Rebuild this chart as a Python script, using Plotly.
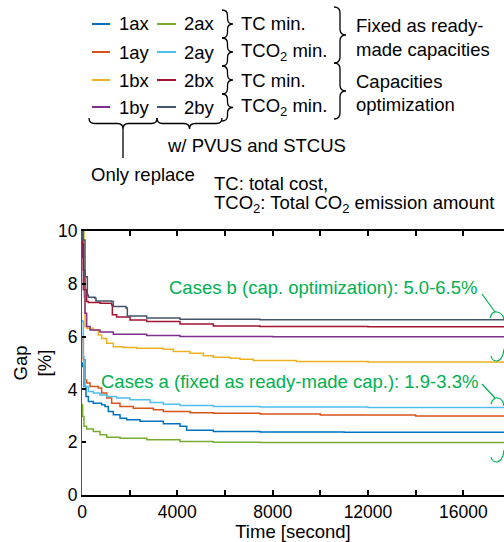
import plotly.graph_objects as go

# ---------------- data ----------------
series_names = ["1ax", "1ay", "1bx", "1by", "2ax", "2ay", "2bx", "2by"]
series_colors = ["#0072BD", "#D95319", "#EDB120", "#7E2F8E",
                 "#77AC30", "#4DBEEE", "#A2142F", "#44546A"]

t_1ax = [0, 28, 84, 168, 266, 476, 825, 965, 1105, 1315, 1595, 1874, 2434, 3413, 4112, 4392, 5511, 7469, 11000, 17708]
v_1ax = [5.0, 4.87, 4.11, 3.73, 3.54, 3.48, 3.42, 3.35, 3.16, 3.04, 2.91, 2.85, 2.79, 2.70, 2.60, 2.45, 2.41, 2.39, 2.38, 2.38]

t_1ay = [0, 28, 56, 126, 196, 336, 685, 825, 1035, 1245, 1595, 2154, 2993, 3413, 4532, 5511, 7469, 10000, 14000, 17708]
v_1ay = [5.9, 5.88, 5.12, 4.36, 4.24, 4.11, 4.05, 3.86, 3.67, 3.48, 3.35, 3.29, 3.23, 3.16, 3.12, 3.10, 3.07, 3.03, 2.99, 2.97]

t_1bx = [0, 84, 126, 196, 476, 685, 825, 1035, 1315, 1734, 2294, 3413, 3833, 4532, 5091, 5511, 6210, 6630, 7190, 9000, 12000, 17708]
v_1bx = [10.0, 7.5, 6.38, 6.32, 6.25, 6.06, 5.93, 5.75, 5.62, 5.59, 5.56, 5.52, 5.44, 5.37, 5.27, 5.22, 5.18, 5.14, 5.09, 5.06, 5.04, 5.02]

t_1by = [0, 28, 56, 126, 196, 336, 755, 1315, 2714, 4112, 8000, 17708]
v_1by = [10.0, 9.0, 7.77, 6.88, 6.38, 6.25, 6.17, 6.09, 6.04, 6.00, 5.99, 5.98]

t_2ax = [0, 28, 84, 196, 476, 755, 1035, 1595, 2714, 4112, 5511, 7469, 17708]
v_2ax = [3.42, 2.97, 2.60, 2.50, 2.41, 2.28, 2.19, 2.15, 2.09, 2.03, 2.00, 1.99, 1.97]

t_2ay = [0, 28, 56, 84, 126, 266, 476, 755, 1035, 1455, 2014, 2853, 3413, 4112, 5511, 7469, 12000, 17708]
v_2ay = [6.6, 6.57, 5.24, 4.36, 4.11, 3.92, 3.86, 3.79, 3.73, 3.67, 3.61, 3.50, 3.44, 3.39, 3.35, 3.33, 3.31, 3.29]

t_2bx = [0, 28, 56, 126, 196, 266, 755, 1245, 1273, 1455, 2014, 2714, 4112, 5511, 7469, 12000, 17708]
v_2bx = [10.0, 9.5, 8.52, 7.77, 7.33, 7.29, 7.26, 7.20, 6.83, 6.74, 6.63, 6.57, 6.48, 6.40, 6.38, 6.37, 6.36]

t_2by = [0, 28, 126, 224, 266, 545, 587, 1245, 1315, 1846, 1902, 2714, 4112, 7469, 17708]
v_2by = [10.0, 9.66, 8.27, 7.58, 7.49, 7.45, 7.35, 7.33, 7.14, 7.08, 6.78, 6.70, 6.66, 6.64, 6.63]

times = [t_1ax, t_1ay, t_1bx, t_1by, t_2ax, t_2ay, t_2bx, t_2by]
values = [v_1ax, v_1ay, v_1bx, v_1by, v_2ax, v_2ay, v_2bx, v_2by]

x_tickvals = [0, 4000, 8000, 12000, 16000]
x_ticktext = ["0", "4000", "8000", "12000", "16000"]
x_minor_step = 2000
y_tickvals = [0, 2, 4, 6, 8, 10]

row_labels = ["TC min.", "TCO<sub>2</sub> min.", "TC min.", "TCO<sub>2</sub> min."]
note_b = "Cases b (cap. optimization): 5.0-6.5%"
note_a = "Cases a (fixed as ready-made cap.): 1.9-3.3%"

# ---------------- layout helpers ----------------
W, H = 504, 542
L, T, PW, PH = 82, 231, 422, 264   # plot area in pixels
FONT = "Liberation Sans, Arial, sans-serif"
GREEN = "#00B050"
FS = 18.5
TFS = 17.5


def px(x):
    return (x - L) / PW


def py(y):
    return (T + PH - y) / PH


def path(cmds):
    out = []
    for c in cmds:
        if isinstance(c, str):
            out.append(c)
        else:
            out.append(f"{px(c[0]):.5f},{py(c[1]):.5f}")
    return " ".join(out)


def vbrace(x, y0, y1, w):
    xm = x + w / 2
    ym = (y0 + y1) / 2
    r = min(w / 2, (y1 - y0) / 4)
    return path(["M", (x, y0), "Q", (xm, y0), (xm, y0 + r), "L", (xm, ym - r),
                 "Q", (xm, ym), (x + w, ym), "Q", (xm, ym), (xm, ym + r),
                 "L", (xm, y1 - r), "Q", (xm, y1), (x, y1)])


def hbrace(x0, x1, y, d):
    ym = y + d / 2
    xm = (x0 + x1) / 2
    r = min(d / 2, (x1 - x0) / 4)
    return path(["M", (x0, y), "Q", (x0, ym), (x0 + r, ym), "L", (xm - r, ym),
                 "Q", (xm, ym), (xm, y + d), "Q", (xm, ym), (xm + r, ym),
                 "L", (x1 - r, ym), "Q", (x1, ym), (x1, y)])


fig = go.Figure()
for name, col, tt, vv in zip(series_names, series_colors, times, values):
    fig.add_trace(go.Scatter(x=tt, y=vv, mode="lines", name=name,
                             line=dict(color=col, width=1.5, shape="hv"),
                             showlegend=False))

shapes = []
annotations = []


def text(x, y, s, anchor="left", color="black", size=FS):
    annotations.append(dict(x=px(x), y=py(y), xref="paper", yref="paper", text=s,
                            showarrow=False, xanchor=anchor, yanchor="middle",
                            font=dict(family=FONT, size=size, color=color)))


def line_px(x0, y0, x1, y1, color="black", width=1.3):
    shapes.append(dict(type="line", xref="paper", yref="paper",
                       x0=px(x0), y0=py(y0), x1=px(x1), y1=py(y1),
                       line=dict(color=color, width=width)))


def path_shape(p, color="black", width=1.3):
    shapes.append(dict(type="path", xref="paper", yref="paper", path=p,
                       line=dict(color=color, width=width)))


# custom legend (two columns)
row_y = [24, 52, 80, 107]
for i in range(4):
    for col, (lx0, lx1, tx) in enumerate([(92, 110, 117), (157, 176, 182)]):
        k = i + 4 * col
        line_px(lx0, row_y[i], lx1, row_y[i], color=series_colors[k], width=2)
        text(tx, row_y[i], series_names[k])
    text(239, row_y[i], row_labels[i])

bounds = [10, 38, 66, 94, 121]
for i in range(4):
    path_shape(vbrace(222, bounds[i], bounds[i + 1], 11))
path_shape(vbrace(334, 7, 63, 12))
path_shape(vbrace(334, 63, 119, 12))
text(354, 25, "Fixed as ready-")
text(354, 49, "made capacities")
text(354, 81, "Capacities")
text(354, 104, "optimization")

path_shape(hbrace(89, 157, 118, 11))
path_shape(hbrace(157, 222, 118, 11))
line_px(123, 129, 123, 158)
text(165, 145, "w/ PVUS and STCUS")
text(89, 174, "Only replace")
text(212, 183, "TC: total cost,")
text(212, 204, "TCO<sub>2</sub>: Total CO<sub>2</sub> emission amount")

# in-plot notes
text(479, 287, note_b, anchor="right", color=GREEN)
text(480, 381, note_a, anchor="right", color=GREEN)
line_px(482, 294, 495, 312, color=GREEN, width=1.2)
path_shape(path(["M", (490, 318), "Q", (492, 311), (497, 312), "Q", (503, 313), (504, 320)]), GREEN, 1.2)
path_shape(path(["M", (504, 349), "Q", (503, 360), (497, 361), "Q", (492, 361), (491, 356)]), GREEN, 1.2)
line_px(482, 384, 495, 398, color=GREEN, width=1.2)
path_shape(path(["M", (491, 404), "Q", (493, 397), (498, 398), "Q", (503, 399), (504, 406)]), GREEN, 1.2)
path_shape(path(["M", (504, 450), "Q", (503, 461), (497, 462), "Q", (492, 462), (491, 457)]), GREEN, 1.2)

fig.update_layout(
    width=W, height=H,
    margin=dict(l=L, r=W - L - PW, t=T, b=H - T - PH, pad=0),
    paper_bgcolor="white", plot_bgcolor="white",
    font=dict(family=FONT, size=TFS, color="black"),
    shapes=shapes, annotations=annotations,
    xaxis=dict(range=[0, 17708], tickvals=x_tickvals, ticktext=x_ticktext,
               ticks="inside", ticklen=5, tickwidth=1.5, tickcolor="black",
               minor=dict(dtick=x_minor_step, tick0=0, ticks="inside", ticklen=5,
                          tickwidth=1.5, tickcolor="black", showgrid=False),
               showline=True, linecolor="black", linewidth=2, mirror="ticks",
               showgrid=False, zeroline=False,
               tickfont=dict(family=FONT, size=TFS),
               title=dict(text="Time [second]", standoff=0,
                          font=dict(family=FONT, size=FS))),
    yaxis=dict(range=[0, 10], tickvals=y_tickvals,
               ticks="inside", ticklen=4, tickwidth=1.5, tickcolor="black",
               showline=True, linecolor="#555555", linewidth=1.2, mirror=False,
               showgrid=False, zeroline=False,
               tickfont=dict(family=FONT, size=TFS),
               title=dict(text="Gap<br>[%]", standoff=1,
                          font=dict(family=FONT, size=FS))),
)

# remove the page's default body margin so the figure fills the window exactly
fig.write_html("out.html",
               config={"displayModeBar": False},
               post_script="document.body.style.margin='0';"
                           "document.body.style.overflow='hidden';")
